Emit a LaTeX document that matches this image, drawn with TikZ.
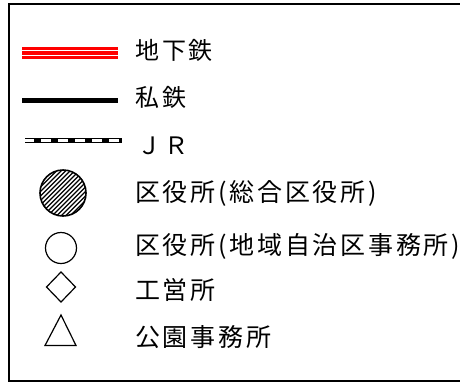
\documentclass[tikz,border=0pt]{standalone}
\usepackage{fontspec}
\newfontfamily\jpsmall[LetterSpace=12]{Noto Sans CJK JP}
\newfontfamily\jplarge[LetterSpace=11]{Noto Sans CJK JP}
\usetikzlibrary{shapes.geometric}
\tikzset{
  rowtop/.style={anchor=west, inner sep=0pt, font=\jpsmall\fontsize{24}{24}\selectfont},
  rowlow/.style={anchor=west, inner sep=0pt, font=\jplarge\fontsize{25}{25}\selectfont},
  mark line/.style={line width=1.2pt},
}

\begin{document}
\begin{tikzpicture}[x=1pt,y=-1pt]
		%%%%% FRAME %%%%%
		\useasboundingbox (0,0) rectangle (460,383);
		\draw[line width=2pt] (460,4) -- (9,4) -- (9,381) -- (460,381);
		
		%%%%% LINES %%%%%
		% subway
		\draw[red, line width=12.3pt] (22,52.8) -- (118,52.8);
		\draw[white, line width=1.1pt] (22,50.1) -- (118,50.1);
		\draw[white, line width=1.1pt] (22,55.4) -- (118,55.4);
		\node[rowtop] (subway) at (135,50) {地下鉄};
		
		% private railway
		\draw[line width=5pt] (22,100) -- (118,100);
		\node[rowtop] (private) at (135,97) {私鉄};
		
		% JR
		\draw[line width=5pt] (25,140.5) -- (122,140.5);
		\draw[white, line width=2.6pt] (25,140.5) -- (122,140.5);
		\draw[line width=2.6pt, dash pattern=on 7pt off 10pt, dash phase=-9pt] (25,140.5) -- (122,140.5);
		\node[rowtop] (jr) at (137,146) {ＪＲ};
		
		%%%%% OFFICES %%%%%
		% ward office (general)
		\begin{scope}
			\clip (63,193) circle (23);
			\foreach \i in {-60,-55.5,...,60}
				\draw[line width=1.4pt] ({63+\i-40},{193+40}) -- ({63+\i+40},{193-40});
		\end{scope}
		\draw[line width=1.6pt] (63,193) circle (23);
		\node[rowlow] (general) at (135,193) {区役所(総合区役所)};
		
		% ward office (local)
		\draw[mark line] (61,248) circle (15.5);
		\node[rowlow] (local) at (135,246) {区役所(地域自治区事務所)};
		
		% works office
		\draw[mark line] (61,272) -- (75.5,287) -- (61,302) -- (46.5,287) -- cycle;
		\node[rowlow] (works) at (135,290) {工営所};
		
		% park office
		\draw[mark line] (61,315) -- (76,345.5) -- (45,345.5) -- cycle;
		\node[rowlow] (park) at (135,337) {公園事務所};
		
	\end{tikzpicture}
\end{document}
